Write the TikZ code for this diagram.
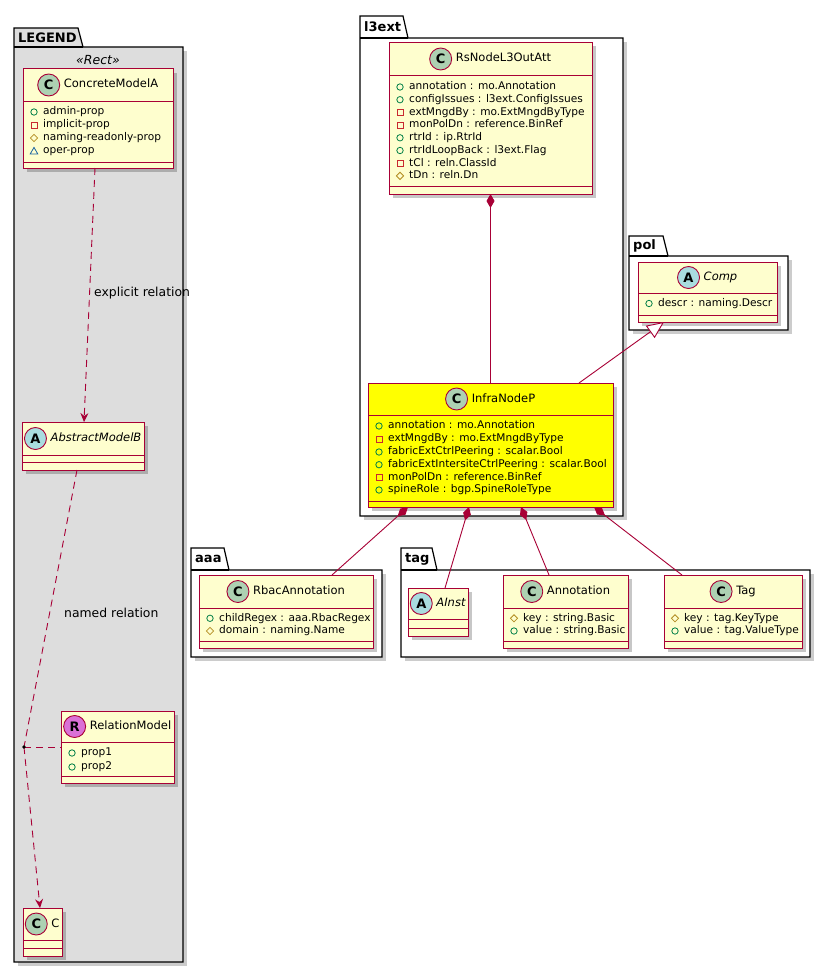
\documentclass[tikz,border=0pt]{standalone}
\usepackage{fontspec}
\setmainfont{DejaVu Sans}
\usetikzlibrary{arrows.meta,shadows}
\definecolor{umlred}{HTML}{A80036}
\definecolor{clsfill}{HTML}{FEFECE}
\definecolor{circC}{HTML}{ADD1B2}
\definecolor{circA}{HTML}{A9DCDF}
\definecolor{circR}{HTML}{DA70D6}
\definecolor{pubc}{HTML}{038048}
\definecolor{privc}{HTML}{C82930}
\definecolor{protc}{HTML}{B38D22}
\definecolor{pkgc}{HTML}{1963A0}
\definecolor{legendfill}{HTML}{DDDDDD}
\definecolor{hiyellow}{HTML}{FFFF00}
\tikzset{
  cls/.style={draw=umlred, fill=clsfill, line width=1pt, inner sep=0pt, outer sep=0pt,
    drop shadow={shadow xshift=3.5pt, shadow yshift=-3.5pt, fill=black, opacity=0.22}},
  clsline/.style={draw=umlred, line width=1pt},
  circ/.style={circle, draw=umlred, line width=0.9pt, minimum size=22pt, inner sep=0pt,
    font=\bfseries\fontsize{13}{13}\selectfont},
  cname/.style={inner sep=0pt, text height=8.5pt, text depth=2.5pt, font=\fontsize{11.5}{12}\selectfont},
  attrtext/.style={anchor=west, inner sep=0pt, text height=8pt, text depth=2.3pt, font=\fontsize{10.6}{12}\selectfont},
  pkgline/.style={draw=black, line width=1.2pt},
  pkgtitle/.style={anchor=west, inner sep=0pt, font=\bfseries\fontsize{13}{13}\selectfont},
  lbl/.style={anchor=west, inner sep=0pt, font=\fontsize{12.4}{13}\selectfont},
  rel/.style={draw=umlred, line width=0.9pt},
  dep/.style={rel, dash pattern=on 7pt off 5pt, -{Stealth[length=9pt,width=8pt,inset=3pt]}},
  depline/.style={rel, dash pattern=on 7pt off 5pt},
  comp/.style={rel, {Diamond[length=14pt,width=8pt]}-},
  inh/.style={rel, -{Triangle[open,length=17pt,width=15pt,fill=white]}},
}
\newcounter{attrn}
\newcommand\iconpub[2]{\draw[draw=pubc, line width=0.8pt] ({#1},{#2}) circle (3.2pt);}
\newcommand\iconpriv[2]{\draw[draw=privc, line width=0.8pt] ({#1-3},{#2-3}) rectangle ({#1+3},{#2+3});}
\newcommand\iconprot[2]{\draw[draw=protc, line width=0.8pt] ({#1-3.6},{#2}) -- ({#1},{#2-3.6}) -- ({#1+3.6},{#2}) -- ({#1},{#2+3.6}) -- cycle;}
\newcommand\iconpkg[2]{\draw[draw=pkgc, line width=0.8pt] ({#1-3.8},{#2+3}) -- ({#1+3.8},{#2+3}) -- ({#1},{#2-3.6}) -- cycle;}
\newcommand\attr[4]{%
  \stepcounter{attrn}%
  \node[attrtext] (attr\arabic{attrn}) at ({#2+20},{#3}) {#4};
  \csname icon#1\endcsname{#2+11}{#3}
}
\newcommand\cbox[8]{%
  \node[cls, fill=#8, minimum width={#4-#2}, minimum height={#5-#3}] (#1) at ({(#2+#4)/2},{(#3+#5)/2}) {};
  \draw[clsline] (#2,#6) -- (#4,#6) (#2,#7) -- (#4,#7);
}
\newcommand\chead[6]{%
  \node[cname] (#1) at (#2,#3) {\hspace*{26pt}#6};
  \node[circ, fill=#5] (#1c) at ([xshift=11pt]#1.west) {#4};
}
\newcommand\upkg[9]{%
  \fill[black, opacity=0.2] ({#2+4},{#5+4}) rectangle ({#6+4},{#7+4});
  \draw[pkgline, fill=#8] (#2,#3) -- (#4,#3) -- ({#4+5},#5) -- (#6,#5) -- (#6,#7) -- (#2,#7) -- cycle;
  \draw[pkgline] (#2,#5) -- ({#4+5},#5);
  \node[pkgtitle] (#1) at ({#2+4},{(#3+#5)/2}) {#9};
}
\begin{document}
\begin{tikzpicture}[x=1pt,y=-1pt]
\useasboundingbox[fill=white] (0,0) rectangle (831,974);

% packages
\upkg{pLegend}{14}{28}{78}{47}{183}{962}{legendfill}{LEGEND}
\upkg{pL3ext}{360}{16}{403}{38}{623}{516}{white}{l3ext}
\upkg{pPol}{629}{236}{663}{256}{788}{330}{white}{pol}
\upkg{pAaa}{191}{548}{224}{570}{382}{657}{white}{aaa}
\upkg{pTag}{401}{548}{432}{570}{810}{657}{white}{tag}

\node[inner sep=0pt, font=\itshape\fontsize{12.5}{13}\selectfont] (stereo) at (98,60) {«Rect»};

% LEGEND classes
\cbox{concrete}{23}{69}{173}{168}{101}{162}{clsfill}
\chead{concreteH}{98}{85}{C}{circC}{ConcreteModelA}
\attr{pub}{23}{112}{admin-prop}
\attr{priv}{23}{125}{implicit-prop}
\attr{prot}{23}{138}{naming-readonly-prop}
\attr{pkg}{23}{151}{oper-prop}

\cbox{abstractB}{22}{422}{144}{470}{455}{462}{clsfill}
\chead{abstractBH}{83}{438.5}{A}{circA}{\itshape AbstractModelB}

\cbox{relm}{61}{711}{174}{783}{742}{776}{clsfill}
\chead{relmH}{117.5}{726.5}{R}{circR}{RelationModel}
\attr{pub}{61}{753}{prop1}
\attr{pub}{61}{767}{prop2}

\cbox{cC}{23}{908}{62}{956}{940}{948}{clsfill}
\chead{cCH}{42.5}{924}{C}{circC}{C}

% l3ext
\cbox{rsnode}{389}{43}{592}{194}{75}{186}{clsfill}
\chead{rsnodeH}{490.5}{59}{C}{circC}{RsNodeL3OutAtt}
\attr{pub}{389}{87}{annotation : mo.Annotation}
\attr{pub}{389}{99.7}{configIssues : l3ext.ConfigIssues}
\attr{priv}{389}{112.4}{extMngdBy : mo.ExtMngdByType}
\attr{priv}{389}{125.1}{monPolDn : reference.BinRef}
\attr{pub}{389}{137.8}{rtrId : ip.RtrId}
\attr{pub}{389}{150.5}{rtrIdLoopBack : l3ext.Flag}
\attr{priv}{389}{163.2}{tCl : reln.ClassId}
\attr{prot}{389}{175.9}{tDn : reln.Dn}

\cbox{infra}{368}{383}{613}{507}{415}{501}{hiyellow}
\chead{infraH}{490.5}{399}{C}{circC}{InfraNodeP}
\attr{pub}{368}{426}{annotation : mo.Annotation}
\attr{priv}{368}{439}{extMngdBy : mo.ExtMngdByType}
\attr{pub}{368}{452}{fabricExtCtrlPeering : scalar.Bool}
\attr{pub}{368}{464.7}{fabricExtIntersiteCtrlPeering : scalar.Bool}
\attr{priv}{368}{477.3}{monPolDn : reference.BinRef}
\attr{pub}{368}{490}{spineRole : bgp.SpineRoleType}

% pol
\cbox{comp}{638}{262}{777}{322}{293}{315}{clsfill}
\chead{compH}{707.5}{277.5}{A}{circA}{\itshape Comp}
\attr{pub}{638}{303.5}{descr : naming.Descr}

% aaa
\cbox{rbac}{199}{575}{373}{648}{608}{641}{clsfill}
\chead{rbacH}{286}{591.5}{C}{circC}{RbacAnnotation}
\attr{pub}{199}{618.3}{childRegex : aaa.RbacRegex}
\attr{prot}{199}{631}{domain : naming.Name}

% tag
\cbox{ainst}{408}{588}{468}{636}{619}{628}{clsfill}
\chead{ainstH}{438}{603.5}{A}{circA}{\itshape AInst}

\cbox{annot}{503}{575}{628}{648}{608}{641}{clsfill}
\chead{annotH}{565.5}{591.5}{C}{circC}{Annotation}
\attr{prot}{503}{618.3}{key : string.Basic}
\attr{pub}{503}{631}{value : string.Basic}

\cbox{tagc}{664}{575}{802}{648}{608}{641}{clsfill}
\chead{tagcH}{733}{591.5}{C}{circC}{Tag}
\attr{prot}{664}{618.3}{key : tag.KeyType}
\attr{pub}{664}{631}{value : tag.ValueType}

% connectors
\draw[comp] (rsnode.south) -- (infra.north);
\draw[inh] ([xshift=-34pt]infra.north east) -- ([xshift=-43.5pt]comp.south);
\draw[comp] ([xshift=40pt]infra.south west) -- ([xshift=133pt]rbac.north west);
\draw[comp] ([xshift=101pt]infra.south west) -- ([xshift=37pt]ainst.north west);
\draw[comp] ([xshift=153pt]infra.south west) -- ([xshift=46pt]annot.north west);
\draw[comp] ([xshift=226pt]infra.south west) -- ([xshift=18pt]tagc.north west);

\draw[dep] ([xshift=-3pt]concrete.south) -- ([xshift=1pt]abstractB.north);
\coordinate (dot) at (24,747);
\draw[depline] ([xshift=-6pt]abstractB.south) -- (dot);
\draw[dep] (dot) -- ([xshift=-2.5pt]cC.north);
\draw[depline] (dot) -- (relm.west);
\fill[black] (dot) circle (1.8pt);

\node[lbl] (lexp) at (94,293) {explicit relation};
\node[lbl] (lnamed) at (64,613) {named relation};
\end{tikzpicture}
\end{document}
